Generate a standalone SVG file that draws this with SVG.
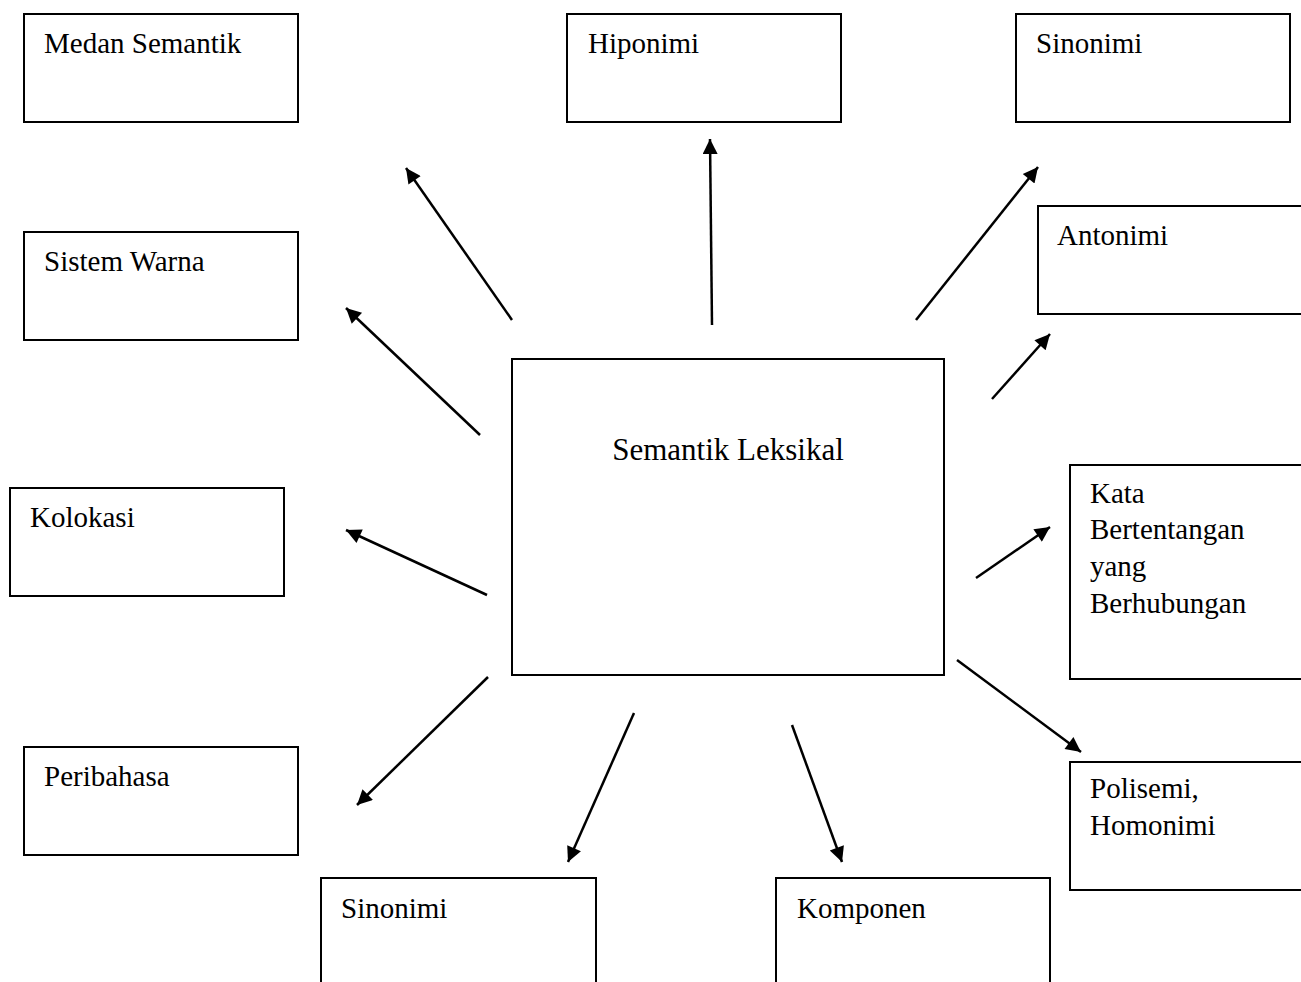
<svg xmlns="http://www.w3.org/2000/svg" width="1301" height="982" viewBox="0 0 1301 982">
<style>
.box{fill:#fff;stroke:#000;stroke-width:2}
.t{font-family:"Liberation Serif","Times New Roman",serif;font-size:29px;fill:#000}
.c line{stroke:#000;stroke-width:2.5;marker-end:url(#ah)}
</style>
<defs>
<marker id="ah" viewBox="0 0 10 10" refX="10" refY="5" markerWidth="7" markerHeight="6" markerUnits="strokeWidth" orient="auto">
<path d="M0,0 L10,5 L0,10 z" fill="#000"/>
</marker>
</defs>
<rect width="1301" height="982" fill="#fff"/>
<g id="n-medan"><rect class="box" x="24" y="14" width="274" height="108"/><text class="t" x="44" y="53">Medan Semantik</text></g>
<g id="n-hiponimi"><rect class="box" x="567" y="14" width="274" height="108"/><text class="t" x="588" y="53">Hiponimi</text></g>
<g id="n-sinonimi1"><rect class="box" x="1016" y="14" width="274" height="108"/><text class="t" x="1036" y="53">Sinonimi</text></g>
<g id="n-sistem"><rect class="box" x="24" y="232" width="274" height="108"/><text class="t" x="44" y="271">Sistem Warna</text></g>
<g id="n-antonimi"><rect class="box" x="1038" y="206" width="274" height="108"/><text class="t" x="1057" y="245">Antonimi</text></g>
<g id="n-center"><rect class="box" x="512" y="359" width="432" height="316"/><text class="t" x="728" y="460" text-anchor="middle" style="font-size:31px">Semantik Leksikal</text></g>
<g id="n-kolokasi"><rect class="box" x="10" y="488" width="274" height="108"/><text class="t" x="30" y="527">Kolokasi</text></g>
<g id="n-kata"><rect class="box" x="1070" y="465" width="250" height="214"/><text class="t" x="1090" y="503">Kata</text><text class="t" x="1090" y="539">Bertentangan</text><text class="t" x="1090" y="576">yang</text><text class="t" x="1090" y="613">Berhubungan</text></g>
<g id="n-peribahasa"><rect class="box" x="24" y="747" width="274" height="108"/><text class="t" x="44" y="786">Peribahasa</text></g>
<g id="n-polisemi"><rect class="box" x="1070" y="762" width="250" height="128"/><text class="t" x="1090" y="798">Polisemi,</text><text class="t" x="1090" y="835">Homonimi</text></g>
<g id="n-sinonimi2"><rect class="box" x="321" y="878" width="275" height="120"/><text class="t" x="341" y="918">Sinonimi</text></g>
<g id="n-komponen"><rect class="box" x="776" y="878" width="274" height="120"/><text class="t" x="797" y="918">Komponen</text></g>
<g id="connectors" class="c">
<line x1="512" y1="320" x2="406" y2="168"/>
<line x1="712" y1="325" x2="710" y2="139"/>
<line x1="916" y1="320" x2="1038" y2="167"/>
<line x1="480" y1="435" x2="346" y2="308"/>
<line x1="992" y1="399" x2="1050" y2="334"/>
<line x1="487" y1="595" x2="346" y2="530"/>
<line x1="976" y1="578" x2="1050" y2="527"/>
<line x1="957" y1="660" x2="1081" y2="752"/>
<line x1="488" y1="677" x2="357" y2="805"/>
<line x1="634" y1="713" x2="568" y2="862"/>
<line x1="792" y1="725" x2="842" y2="862"/>
</g>
</svg>
